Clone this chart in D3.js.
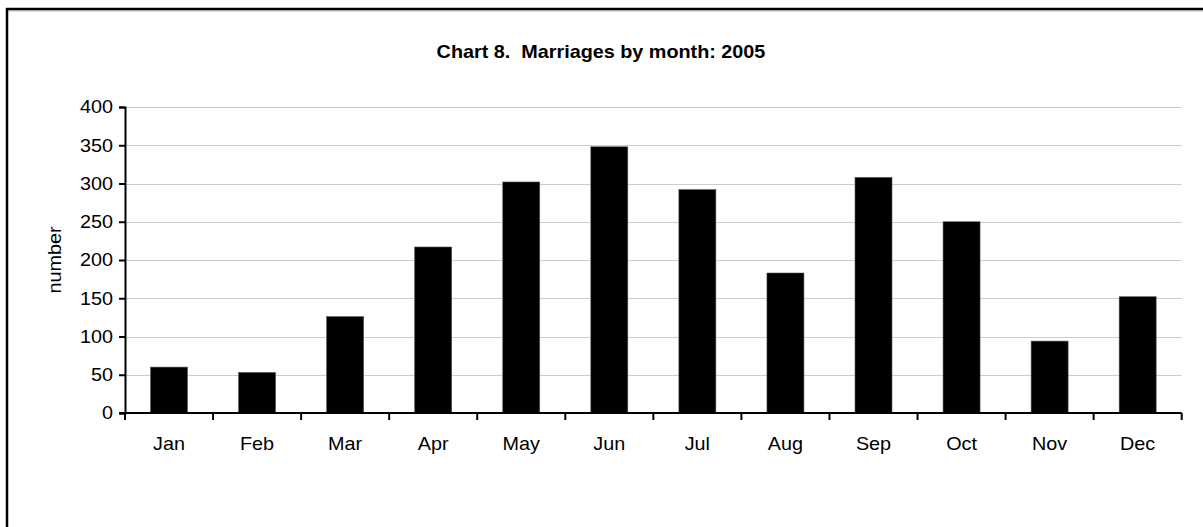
<!DOCTYPE html>
<html>
<head>
<meta charset="utf-8">
<script src="https://cdn.jsdelivr.net/npm/d3@7"></script>
<style>
  body { margin: 0; background: #fff; }
  text { font-family: "Liberation Sans", Arial, sans-serif; fill: #000; }
</style>
</head>
<body>
<div id="chart"></div>
<script>
// marriages by month, 2005
var months = ["Jan", "Feb", "Mar", "Apr", "May", "Jun", "Jul", "Aug", "Sep", "Oct", "Nov", "Dec"];
var marriages = [60, 53, 126, 217, 302, 348, 292, 183, 308, 250, 94, 152];
var yTicks = [0, 50, 100, 150, 200, 250, 300, 350, 400];

var width = 1203, height = 527;
var margin = {top: 107, right: 22, bottom: 114, left: 125};
var wide = 1.1; // reference font is a bit wider than Arial

var svg = d3.select("#chart").append("svg")
  .attr("width", width).attr("height", height);

// stretch text horizontally around its own x position
function stretch(sel) {
  sel.attr("transform", function() {
    var tx = +d3.select(this).attr("x") || 0;
    return "translate(" + tx + ",0) scale(" + wide + ",1) translate(" + (-tx) + ",0)";
  });
}

// frame
svg.append("line").attr("x1", 6).attr("x2", width).attr("y1", 9).attr("y2", 9)
  .attr("stroke", "#000").attr("stroke-width", 2.5);
svg.append("line").attr("x1", 6).attr("x2", width).attr("y1", 10.8).attr("y2", 10.8)
  .attr("stroke", "#999").attr("stroke-width", 1);
svg.append("line").attr("x1", 7).attr("x2", 7).attr("y1", 8).attr("y2", height)
  .attr("stroke", "#000").attr("stroke-width", 2.5);

var x = d3.scaleBand()
  .domain(months)
  .range([margin.left, width - margin.right + 0.7])
  .paddingInner(0.58)
  .paddingOuter(0.29);

var xTicksScale = d3.scaleBand().domain(months)
  .range([margin.left, width - margin.right + 0.7]);

var y = d3.scaleLinear()
  .domain([0, 400])
  .range([height - margin.bottom, margin.top]);

// gridlines
svg.append("g")
  .selectAll("line")
  .data(yTicks.filter(function(d) { return d > 0; }))
  .enter().append("line")
  .attr("x1", margin.left).attr("x2", xTicksScale.range()[1])
  .attr("y1", function(d) { return Math.round(y(d)) + 0.5; })
  .attr("y2", function(d) { return Math.round(y(d)) + 0.5; })
  .attr("stroke", "#cccccc").attr("stroke-width", 1);

// bars
svg.append("g")
  .selectAll("rect")
  .data(marriages)
  .enter().append("rect")
  .attr("x", function(d, i) { return x(months[i]); })
  .attr("width", x.bandwidth())
  .attr("y", function(d) { return y(d); })
  .attr("height", function(d) { return y(0) - y(d); })
  .attr("fill", "#000")
  .attr("stroke", "#555").attr("stroke-width", 0.6);

// y axis
var yAxis = svg.append("g")
  .attr("transform", "translate(" + margin.left + ",0)")
  .call(d3.axisLeft(y).tickValues(yTicks).tickSize(6).tickPadding(6));
yAxis.select(".domain").attr("stroke", "#000").attr("stroke-width", 2);
yAxis.selectAll(".tick line").attr("stroke", "#000").attr("stroke-width", 2);
yAxis.selectAll("text").attr("font-size", 18)
  .style("font-family", "'Liberation Sans', Arial, sans-serif").attr("fill", "#000")
  .call(stretch);

// x axis with ticks at band edges
var xg = svg.append("g").attr("transform", "translate(0," + y(0) + ")");
xg.append("line").attr("x1", margin.left - 6).attr("x2", xTicksScale.range()[1])
  .attr("stroke", "#000").attr("stroke-width", 2);
var edges = months.map(function(m) { return xTicksScale(m); });
edges.push(xTicksScale.range()[1]);
xg.selectAll(".edge")
  .data(edges)
  .enter().append("line")
  .attr("class", "edge")
  .attr("x1", function(d) { return d; }).attr("x2", function(d) { return d; })
  .attr("y1", 0).attr("y2", 7)
  .attr("stroke", "#000").attr("stroke-width", 2);
xg.selectAll(".lbl")
  .data(months)
  .enter().append("text")
  .attr("class", "lbl")
  .attr("x", function(d) { return xTicksScale(d) + xTicksScale.bandwidth() / 2; })
  .attr("y", 37)
  .attr("text-anchor", "middle")
  .attr("font-size", 18)
  .text(function(d) { return d; })
  .call(stretch);

// y label
svg.append("g")
  .attr("transform", "translate(61,260) rotate(-90) scale(" + wide + ",1)")
  .append("text")
  .attr("text-anchor", "middle")
  .attr("font-size", 18)
  .text("number");

// title
svg.append("text")
  .attr("x", 601).attr("y", 58)
  .attr("text-anchor", "middle")
  .attr("font-size", 18)
  .attr("font-weight", "bold")
  .attr("xml:space", "preserve")
  .style("white-space", "pre")
  .text("Chart 8.  Marriages by month: 2005")
  .call(stretch);
</script>
</body>
</html>
